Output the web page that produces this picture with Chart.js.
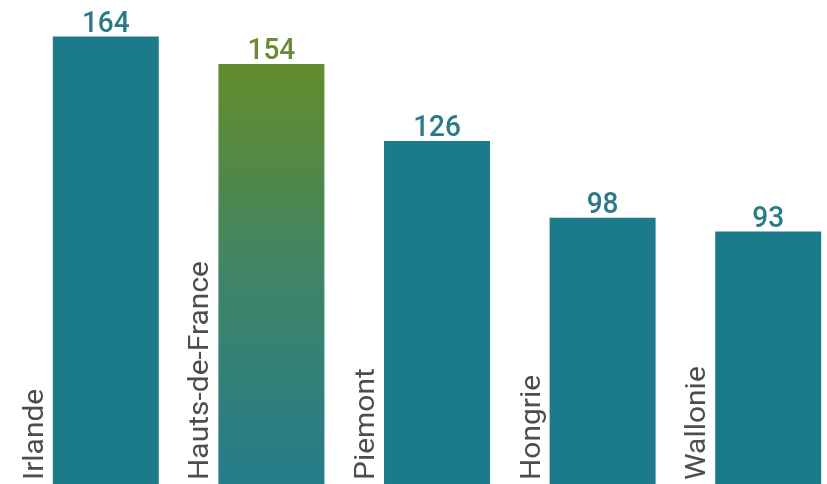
<!DOCTYPE html>
<html>
<head>
<meta charset="utf-8">
<script src="https://cdn.jsdelivr.net/npm/chart.js@4"></script>
<style>
  html, body { margin: 0; padding: 0; background: #fff; overflow: hidden; }
  #wrap { width: 851px; height: 487px; }
</style>
</head>
<body>
<div id="wrap"><canvas id="barChart" width="851" height="487"></canvas></div>
<script>
const regions = ['Irlande', 'Hauts-de-France', 'Piemont', 'Hongrie', 'Wallonie'];
const values = [164, 154, 126, 98, 93];
const highlight = 'Hauts-de-France';

const teal = '#1c7b8b';
const tealText = '#2a7a87';
const greenText = '#6b8a35';

// labels + values drawn next to / above each bar
// (source image is a bit stretched vertically, so text is too)
const barLabels = {
    id: 'barLabels',
    afterDatasetsDraw(chart) {
        const ctx = chart.ctx;
        const meta = chart.getDatasetMeta(0);
        const bottom = chart.chartArea.bottom;
        meta.data.forEach((bar, i) => {
            const left = bar.x - bar.width / 2;
            ctx.save();
            ctx.translate(bar.x, bar.y - 5);
            ctx.scale(1, 1.08);
            ctx.font = '500 28px Roboto';
            ctx.fillStyle = regions[i] === highlight ? greenText : tealText;
            ctx.textAlign = 'center';
            ctx.textBaseline = 'alphabetic';
            ctx.fillText(values[i], 0, 0);
            ctx.restore();

            ctx.save();
            ctx.translate(left - 10, bottom - 7);
            ctx.rotate(-Math.PI / 2);
            ctx.scale(1.07, 1);
            ctx.font = '400 28px Roboto';
            ctx.fillStyle = '#4d4d4d';
            ctx.textAlign = 'left';
            ctx.fillText(regions[i], 0, 0);
            ctx.restore();
        });
    }
};

new Chart(document.getElementById('barChart'), {
    type: 'bar',
    data: {
        labels: regions,
        datasets: [{
            data: values,
            backgroundColor: (c) => {
                if (regions[c.dataIndex] !== highlight) return teal;
                const area = c.chart.chartArea;
                if (!area) return teal;
                const top = c.chart.scales.y.getPixelForValue(values[c.dataIndex]);
                const g = c.chart.ctx.createLinearGradient(0, top, 0, area.bottom);
                g.addColorStop(0, '#648c2c');
                g.addColorStop(0.5, '#3f8566');
                g.addColorStop(1, '#247b8b');
                return g;
            },
            borderWidth: 0,
            barPercentage: 0.64,
            categoryPercentage: 1
        }]
    },
    options: {
        responsive: false,
        animation: false,
        devicePixelRatio: 1,
        layout: { padding: { left: 23, right: 0, top: 0, bottom: 0 } },
        plugins: { legend: { display: false }, tooltip: { enabled: false } },
        scales: {
            x: { display: false },
            y: { display: false, min: 0, max: 177.3 }
        }
    },
    plugins: [barLabels]
});
</script>
</body>
</html>
